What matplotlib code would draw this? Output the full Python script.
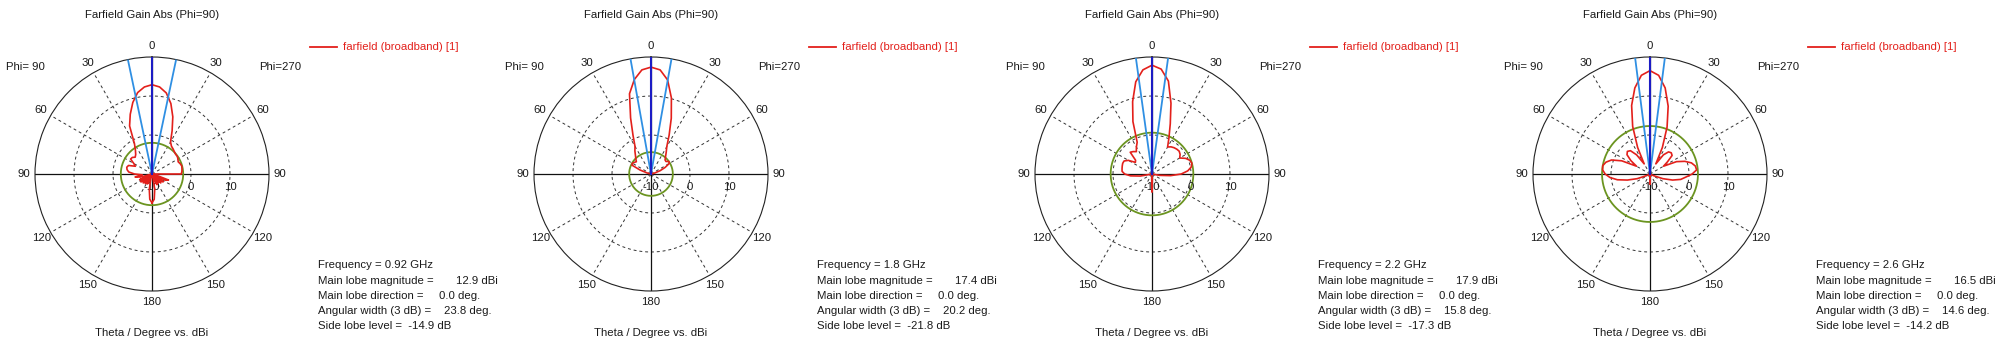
import numpy as np
import matplotlib.pyplot as plt

plt.rcParams['font.family'] = ['Liberation Sans', 'DejaVu Sans']
plt.rcParams['font.size'] = 8.2

# theta in degrees, positive towards the Phi=90 side (left), negative towards Phi=270
theta_deg = np.arange(-180, 185, 5)

freqs = ["0.92", "1.8", "2.2", "2.6"]
main_mag = [12.9, 17.4, 17.9, 16.5]
main_dir = [0.0, 0.0, 0.0, 0.0]
ang_width = [23.8, 20.2, 15.8, 14.6]
side_lobe = [-14.9, -21.8, -17.3, -14.2]

# gain in dBi, theta = -180 ... 180 step 5
gain_092 = [-2.6, -3.5, -6.0, -9.0, -9.5, -7.0, -10, -7.2, -9.5, -6.8,
            -10, -6.5, -9.0, -6.2, -5.5, -9.0, -10, -10, -2.5, -2.3,
            -2.2, -2.1, -2.3, -2.6, -2.3, -2.1, -2.1, -1.9, -1.6, -1.3,
            -0.5, 2.2, 5.6, 8.7, 11.1, 12.4, 12.9, 12.4, 11.2, 9.0,
            6.3, 3.6, -1.0, -2.6, -3.5, -3.9, -3.4, -3.3, -4.6, -5.3,
            -3.6, -3.3, -3.5, -4.0, -5.5, -7.5, -5.6, -7.0, -10, -6.5,
            -9.0, -6.5, -10, -6.8, -9.5, -7.0, -10, -7.2, -9.5, -9.0,
            -6.0, -3.5, -2.6]
gain_18 = [-10, -10, -10, -10, -10, -10, -10, -10, -10, -10,
           -10, -10, -10, -10, -10, -10, -10, -10, -10, -10,
           -10, -9.0, -7.5, -6.0, -4.6, -4.4, -5.0, -4.9, -4.2, -3.2,
           -1.9, 1.0, 5.2, 10.2, 14.5, 16.8, 17.4, 16.8, 14.6, 11.3,
           5.3, 0.9, -1.8, -2.8, -3.8, -4.5, -5.1, -4.8, -4.5, -4.6,
           -7.0, -9.0, -10, -10, -10, -10, -10, -10, -10, -10,
           -10, -10, -10, -10, -10, -10, -10, -10, -10, -10,
           -10, -10, -10]
gain_22 = [-5.5, -9.0, -10, -10, -10, -10, -10, -10, -10, -10,
           -10, -10, -10, -10, -10, -10, -8.0, -5.2, -2.5, -0.8,
           0.2, 0.6, 0.3, -0.5, -1.8, -1.2, -0.9, -1.0, -1.2, -1.5,
           -2.0, 0.3, 3.7, 8.8, 14.2, 17.0, 17.9, 16.8, 14.0, 9.2,
           4.3, -1.0, -2.0, -3.0, -2.5, -2.1, -4.5, -4.8, -3.0, -2.1,
           -2.0, -2.1, -2.2, -2.3, -3.0, -4.5, -7.0, -10, -10, -10,
           -10, -10, -10, -10, -10, -10, -10, -10, -10, -10,
           -10, -9.0, -5.5]
gain_26 = [-7.5, -10, -10, -10, -10, -10, -10, -10, -10, -10,
           -10, -10, -10, -9.0, -6.5, -4.0, -2.0, -0.8, 0.8, 2.0,
           1.8, 1.0, -0.5, -2.5, -6.0, -4.5, -2.6, -2.3, -2.6, -4.0,
           -7.0, -2.5, 2.8, 8.0, 12.4, 15.4, 16.5, 15.4, 12.4, 8.2,
           3.0, -2.5, -7.0, -4.0, -2.2, -1.8, -2.3, -4.0, -6.0, -2.0,
           0.5, 1.7, 2.3, 2.2, 1.5, 0.3, -1.5, -4.0, -6.5, -9.0,
           -10, -10, -10, -10, -10, -10, -10, -10, -10, -10,
           -10, -10, -7.5]
gains = [gain_092, gain_18, gain_22, gain_26]

W, H = 2000, 347
R = 117
centers_x = [152, 651, 1152, 1650]
cy = 174
RMIN, RMAX = -10, 20

txt = '#1a1a1a'
red = '#e3201b'
dash = (0, (3, 3))

fig = plt.figure(figsize=(W / 100, H / 100), dpi=100)


def ftext(x, y, s, **kw):
    fig.text(x / W, 1 - y / H, s, color=kw.pop('color', txt), **kw)


circ = np.linspace(0, 2 * np.pi, 361)

for i, cx in enumerate(centers_x):
    ax = fig.add_axes([(cx - R) / W, (H - cy - R) / H, 2 * R / W, 2 * R / H],
                      projection='polar')
    ax.set_theta_zero_location('N')
    ax.set_theta_direction(1)
    ax.set_ylim(RMIN, RMAX)
    ax.grid(False)
    ax.set_xticks([])
    ax.set_yticks([])
    ax.spines['polar'].set_linewidth(0.8)
    ax.spines['polar'].set_color('#222222')

    # dashed rings and spokes
    for r in (0, 10):
        ax.plot(circ, np.full_like(circ, r), color='#333333', lw=0.7, ls=dash)
    for a in (30, 60, 120, 150, -30, -60, -120, -150):
        ax.plot([np.radians(a)] * 2, [RMIN, RMAX], color='#333333', lw=0.7, ls=dash)
    for a in (0, 90, -90, 180):
        ax.plot([np.radians(a)] * 2, [RMIN, RMAX], color='#111111', lw=0.9)

    # side lobe level circle
    sll = main_mag[i] + side_lobe[i]
    ax.plot(circ, np.full_like(circ, sll), color='#6b9420', lw=1.3, zorder=3)

    # pattern
    g = np.clip(np.array(gains[i]), RMIN, None)
    ax.plot(np.radians(theta_deg), g, color=red, lw=1.2, zorder=4)

    # main lobe direction and 3 dB width
    half = ang_width[i] / 2
    for a in (main_dir[i] - half, main_dir[i] + half):
        ax.plot([np.radians(a)] * 2, [RMIN, RMAX], color='#2f8fe3', lw=1.3, zorder=5)
    ax.plot([np.radians(main_dir[i])] * 2, [RMIN, RMAX], color='#1c1cc4', lw=1.5, zorder=6)

    # angle labels
    for a in (0, 30, 60, 90, 120, 150, 180, -30, -60, -90, -120, -150):
        ax.text(np.radians(a), 22.8, str(abs(a)), ha='center', va='center',
                color=txt, clip_on=False)
    for r in (-10, 0, 10):
        ax.annotate(str(r), xy=(-np.pi / 2, r), xytext=(0, -13),
                    textcoords='offset pixels', ha='center', va='center',
                    color=txt, annotation_clip=False)

    ftext(cx, 15, "Farfield Gain Abs (Phi=90)", ha='center', va='center')
    ftext(cx, 333, "Theta / Degree vs. dBi", ha='center', va='center')
    ftext(cx - 127, 67, "Phi= 90", ha='center', va='center')
    ftext(cx + 128, 67, "Phi=270", ha='center', va='center')

    # legend
    fig.add_artist(plt.Line2D([(cx + 158) / W, (cx + 185) / W],
                              [1 - 47 / H, 1 - 47 / H], color=red, lw=1.3))
    ftext(cx + 191, 47, "farfield (broadband) [1]", ha='left', va='center', color=red)

    # result summary
    x0 = cx + 166
    ftext(x0, 265, f"Frequency = {freqs[i]} GHz", va='center')
    ftext(x0, 280.5, "Main lobe magnitude =", va='center')
    ftext(cx + 304, 280.5, f"{main_mag[i]:.1f} dBi", va='center')
    ftext(x0, 296, "Main lobe direction =", va='center')
    ftext(cx + 287, 296, f"{main_dir[i]:.1f} deg.", va='center')
    ftext(x0, 311, "Angular width (3 dB) =", va='center')
    ftext(cx + 292, 311, f"{ang_width[i]:.1f} deg.", va='center')
    ftext(x0, 326, f"Side lobe level =  {side_lobe[i]:.1f} dB", va='center')

fig.savefig("out.png", dpi=100, facecolor='white')
